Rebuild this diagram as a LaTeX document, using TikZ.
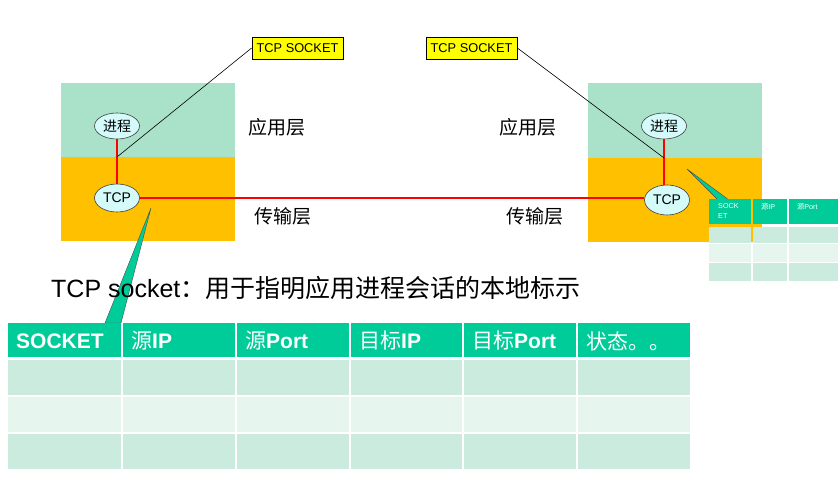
\documentclass[tikz,border=0pt]{standalone}
\usepackage{fontspec}
\setmainfont{Liberation Sans}
\newfontfamily\cjk{Noto Sans CJK SC}
\usetikzlibrary{shapes.geometric}
\definecolor{appgreen}{HTML}{AAE1C9}
\definecolor{transorange}{HTML}{FFC000}
\definecolor{ellfill}{HTML}{D4FAFA}
\definecolor{hdrteal}{HTML}{00CC99}
\definecolor{rowdark}{HTML}{CCEBDF}
\definecolor{rowlight}{HTML}{E6F5EE}
\definecolor{sockyellow}{HTML}{FFFF00}
\begin{document}
\begin{tikzpicture}[x=1pt,y=-1pt,
  ell/.style={ellipse, draw=black!75, line width=0.6pt, fill=ellfill, minimum width=45pt, minimum height=26pt, inner sep=0pt, font=\fontsize{14}{14}\selectfont},
  sockbox/.style={draw=black, line width=0.8pt, fill=sockyellow, minimum width=91pt, minimum height=22pt, inner sep=0pt, font=\fontsize{12.8}{13}\selectfont},
  layerlbl/.style={font=\cjk\fontsize{19}{19}\selectfont, inner sep=0pt},
  redline/.style={draw=red, line width=1.4pt},
  blackline/.style={draw=black, line width=0.6pt},
  wedge/.style={fill=hdrteal, draw=black!70, line width=0.4pt},
  hdrtxt/.style={anchor=west, text=white, inner sep=0pt, font=\fontsize{21}{21}\selectfont},
  smalltxt/.style={anchor=north west, text=white, inner sep=0pt, align=left, font=\fontsize{7.2}{10}\selectfont}
]
\useasboundingbox (0,0) rectangle (839,486);
\fill[white] (0,0) rectangle (839,486);

% layer blocks
\fill[appgreen] (61,83) rectangle (235,157);
\fill[transorange] (61,157) rectangle (235,241);
\fill[appgreen] (588,83) rectangle (762,158);
\fill[transorange] (588,158) rectangle (762,242);

% layer labels
\node[layerlbl] (lapp) at (277,127) {应用层};
\node[layerlbl] (ltra) at (283,216) {传输层};
\node[layerlbl] (rapp) at (528,127) {应用层};
\node[layerlbl] (rtra) at (535,216) {传输层};

% socket boxes
\node[sockbox] (lsock) at (297.5,48) {TCP SOCKET};
\node[sockbox] (rsock) at (471.5,48) {TCP SOCKET};

% ellipses
\node[ell] (lproc) at (117,126) {\cjk 进程};
\node[ell, minimum height=28pt] (ltcp) at (117,198) {TCP};
\node[ell] (rproc) at (664,126) {\cjk 进程};
\node[ell, minimum height=30pt] (rtcp) at (667,200) {TCP};

\coordinate (ljoin) at (117,157);
\coordinate (rjoin) at (664,158);

% connectors
\draw[redline] (lproc.south) -- (ltcp.north);
\draw[redline] (rproc.south) -- (rproc.south |- rtcp.north);
\draw[redline] (ltcp.east) -- (ltcp.east -| rtcp.west);
\draw[blackline] (lsock.west) -- (ljoin);
\draw[blackline] (rsock.east) -- (rjoin);

% callout wedges
\coordinate (ltip) at (151,208);
\coordinate (lb1) at (105,323);
\coordinate (lb2) at (121,323);
\draw[wedge] (ltip) -- (lb1) -- (lb2) -- cycle;
\coordinate (rtip) at (687,169);
\coordinate (rb1) at (718,200);
\coordinate (rb2) at (729,200);
\draw[wedge] (rtip) -- (rb1) -- (rb2) -- cycle;

% caption
\node[anchor=west, inner sep=0pt, font=\fontsize{25}{25}\selectfont] (caption) at (51,288) {TCP socket{\cjk ：用于指明应用进程会话的本地标示}};

% big table
\foreach \xa/\xb [count=\i] in {8/121,123/235,237/349,351/462,464/576,578/690}{
  \fill[hdrteal] (\xa,323) rectangle (\xb,357);
  \fill[rowdark] (\xa,360) rectangle (\xb,395);
  \fill[rowlight] (\xa,397) rectangle (\xb,432);
  \fill[rowdark] (\xa,434) rectangle (\xb,469);
}
\node[hdrtxt] (h1) at (16,341) {\bfseries SOCKET};
\node[hdrtxt] (h2) at (131,341) {{\cjk 源}\bfseries IP};
\node[hdrtxt] (h3) at (245,341) {{\cjk 源}\bfseries Port};
\node[hdrtxt] (h4) at (359,341) {{\cjk 目标}\bfseries IP};
\node[hdrtxt] (h5) at (472,341) {{\cjk 目标}\bfseries Port};
\node[hdrtxt] (h6) at (586,341) {\cjk 状态。。};

% small table
\foreach \xa/\xb in {709/751,753/787,789/838}{
  \fill[hdrteal] (\xa,199) rectangle (\xb,224);
  \fill[rowdark] (\xa,227) rectangle (\xb,243);
  \fill[rowlight] (\xa,244) rectangle (\xb,262);
  \fill[rowdark] (\xa,263) rectangle (\xb,281);
}
\node[smalltxt] (s1) at (718,203) {SOCK\\ET};
\node[smalltxt] (s2) at (761,203) {{\cjk 源}IP};
\node[smalltxt] (s3) at (797,203) {{\cjk 源}Port};
\end{tikzpicture}
\end{document}
